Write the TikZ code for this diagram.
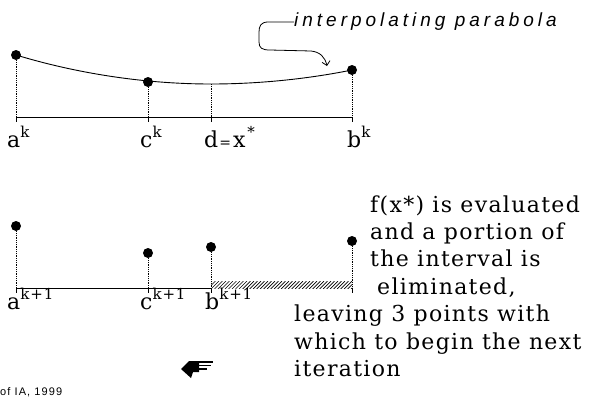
\documentclass[tikz,border=0pt]{standalone}
\usepackage{fontspec}
\setmainfont{DejaVu Serif}
\newfontfamily\bodyfont[LetterSpace=6]{DejaVu Serif}
\newfontfamily\notefont[LetterSpace=21]{Liberation Sans}
\newfontfamily\creditfont[LetterSpace=10]{Liberation Sans}
\usetikzlibrary{arrows.meta}
\newcommand{\sps}[1]{\raisebox{0.45em}{\fontsize{15}{15}\bodyfont #1}}

\begin{document}
\begin{tikzpicture}[x=1pt, y=-1pt, >={Straight Barb[length=4pt,width=8pt]},
  dot/.style={circle, fill, inner sep=0pt, minimum size=10pt},
  lbl/.style={anchor=base west, inner sep=0pt, font=\fontsize{22}{24}\bodyfont},
  txt/.style={anchor=base west, inner sep=0pt, font=\fontsize{22}{24}\bodyfont},
  note/.style={anchor=west, inner sep=0pt, font=\fontsize{19}{21}\notefont\itshape},
  drop/.style={densely dotted, line width=0.8pt},
  axis/.style={line width=0.9pt}]
\useasboundingbox (0,0) rectangle (590,402);
% interval before the step
\node[dot] (a1) at (16,55) {};
\node[dot] (c1) at (148,82) {};
\node[dot] (b1) at (352,70) {};
\coordinate (d1) at (211,84);
\foreach \n/\x in {a1/16,c1/148,d1/211,b1/352} \coordinate (\n-ax) at (\x,117);
\draw[axis] (a1-ax) -- (b1-ax);
\foreach \n in {a1,c1,d1,b1} {
  \draw[axis] (\n-ax) -- ++(0,5);
  \draw[drop] (\n) -- (\n-ax);
}
\draw[axis] (a1.center) parabola bend (d1) (b1.center);
\node[lbl] (la1) at (7,147) {a\sps{k}};
\node[lbl] (lc1) at (140,147) {c\sps{k}};
\node[lbl] (ld1) at (204,147) {d\kern1pt{\fontsize{14}{14}\selectfont =}\kern2pt x\kern2pt\sps{*}};
\node[lbl] (lb1) at (347,147) {b\sps{k}};
% label of the parabola
\node[note] (interp) at (294,22) {interpolating parabola};
\coordinate (tip) at (327,66);
\draw[->, line width=0.8pt] (interp.west) -- (268,22)
  .. controls (261,22) and (259,26) .. (259,32) -- (259,42)
  .. controls (259,48) and (262,50) .. (270,50) -- (311,51)
  .. controls (320,52) and (325,57) .. (tip);
% interval after the step
\node[dot] (a2) at (16,226) {};
\node[dot] (c2) at (148,253) {};
\node[dot] (b2) at (211,247) {};
\node[dot] (r2) at (352,241) {};
\foreach \n/\x in {a2/16,c2/148,b2/211,r2/352} \coordinate (\n-ax) at (\x,288);
\draw[axis] (a2-ax) -- (b2-ax);
\begin{scope}
  \clip (b2-ax) rectangle ([yshift=7pt]r2-ax);
  \foreach \x in {204,207.5,...,352} \draw[line width=0.7pt] (\x,289) -- ++(8,-8);
\end{scope}
\foreach \n in {a2,c2,b2,r2} {
  \draw[axis] (\n-ax) -- ++(0,5);
  \draw[drop] (\n) -- (\n-ax);
}
\node[lbl] (la2) at (7,309) {a\sps{k+1}};
\node[lbl] (lc2) at (140,309) {c\sps{k+1}};
\node[lbl] (lb2) at (205,309) {b\sps{k+1}};
% explanation
\foreach \x/\y/\t [count=\i] in {370/212/{f(x*) is evaluated}, 370/239/{and a portion of},
  370/266/{the interval is}, 377/294/{eliminated,}, 294/321/{leaving 3 points with},
  294/349/{which to begin the next}, 294/376/{iteration}}
  \node[txt] (line\i) at (\x,\y) {\t};
% pointing hand
\fill (181,369) -- (189,361) -- (199,361) -- (199,372) -- (193,372) -- (191,378) -- cycle;
\draw[line width=1.5pt] (196,362) -- (213,362) (196,365.5) -- (211,365.5) (196,369) -- (207,369);
\node[anchor=west, inner sep=0pt, font=\fontsize{11}{12}\creditfont] (credit) at (0,392) {of IA, 1999};
\end{tikzpicture}
\end{document}
